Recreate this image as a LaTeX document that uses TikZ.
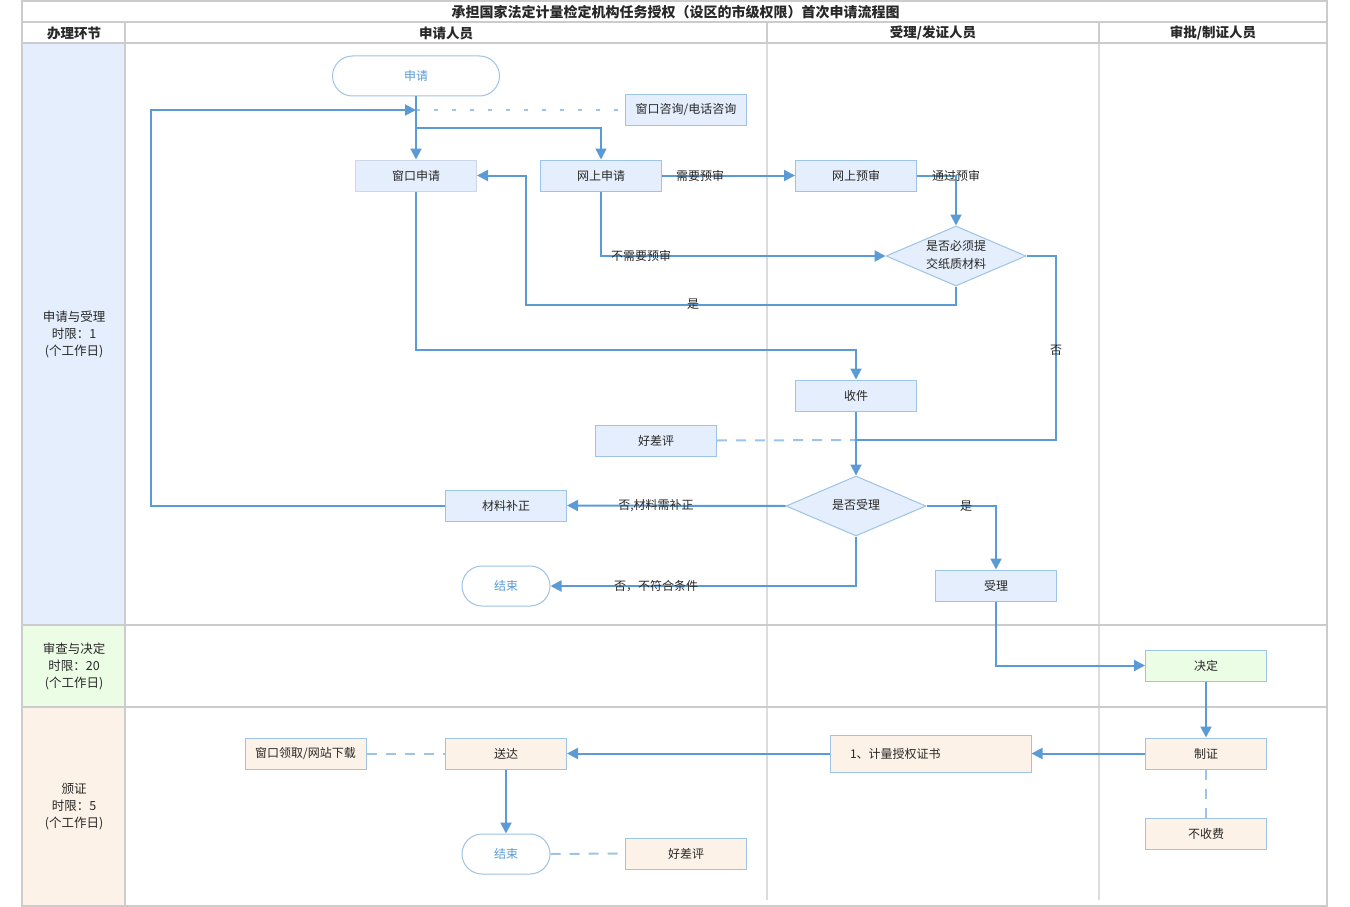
\documentclass[tikz,border=0pt]{standalone}
\usepackage{fontspec}
\setmainfont{Noto Sans CJK SC}
\usetikzlibrary{arrows.meta,shapes.geometric}
\definecolor{ln}{RGB}{91,155,213}
\definecolor{bd}{RGB}{157,195,230}
\definecolor{bdg}{RGB}{205,215,232}
\definecolor{fb}{RGB}{228,238,252}
\definecolor{fg}{RGB}{236,253,230}
\definecolor{fo}{RGB}{253,242,231}
\definecolor{gridc}{RGB}{204,204,204}
\definecolor{gridl}{RGB}{220,220,220}
\definecolor{tx}{RGB}{40,40,40}
\begin{document}
\begin{tikzpicture}[x=1pt,y=-1pt,
  font=\fontsize{12}{14}\selectfont, text=tx,
  box/.style={draw=bd, line width=1pt, fill=fb, minimum width=121pt, minimum height=31pt, inner sep=0pt},
  gbox/.style={box, fill=fg},
  obox/.style={box, fill=fo},
  term/.style={draw=bd, line width=1pt, rounded corners=20pt, minimum width=88pt, minimum height=40pt, inner sep=0pt, text=ln, fill=white},
  dia/.style={diamond, draw=bd, line width=1pt, fill=fb, minimum width=140pt, minimum height=60pt, inner sep=0pt},
  conn/.style={draw=ln, line width=2pt, -{Triangle[length=11pt,width=11pt]}},
  plain/.style={draw=ln, line width=2pt},
  dsh/.style={draw=bd, line width=2pt, dash pattern=on 10pt off 9pt},
  dotl/.style={draw=bd, line width=2pt, dash pattern=on 4pt off 14pt},
  lab/.style={inner sep=1pt},
  phase/.style={align=center, font=\fontsize{12.5}{17}\selectfont},
  hdr/.style={font=\bfseries\fontsize{13.5}{15}\selectfont}]
\useasboundingbox (0,0) rectangle (1350,907);
% phase fills
\fill[fb] (22,43) rectangle (125,625);
\fill[fg] (22,625) rectangle (125,707);
\fill[fo] (22,707) rectangle (125,906);
% grid
\draw[gridl, line width=2pt] (767,43) -- (767,900) (1099,43) -- (1099,900);
\draw[gridc, line width=2pt] (22,1) rectangle (1327,906);
\draw[gridc, line width=2pt] (22,22) -- (1327,22) (22,43) -- (1327,43)
  (22,625) -- (1327,625) (22,707) -- (1327,707)
  (125,22) -- (125,906) (767,22) -- (767,43) (1099,22) -- (1099,43);
% headers
\node[hdr, font=\bfseries\fontsize{14}{15}\selectfont] (title) at (675.5,12) {承担国家法定计量检定机构任务授权（设区的市级权限）首次申请流程图};
\node[hdr] (h0) at (74,33) {办理环节};
\node[hdr] (h1) at (446,33) {申请人员};
\node[hdr] (h2) at (933,33) {受理/发证人员};
\node[hdr] (h3) at (1213,33) {审批/制证人员};
\node[phase] (p1) at (74,334) {申请与受理\\时限：1\\(个工作日)};
\node[phase] (p2) at (74,666) {审查与决定\\时限：20\\(个工作日)};
\node[phase] (p3) at (74,807) {颁证\\时限：5\\(个工作日)};
% nodes
\node[term, minimum width=167pt] (sq) at (416,76) {申请};
\node[box] (zx) at (686,110) {窗口咨询/电话咨询};
\node[box, draw=bdg] (wc) at (416,175.5) {窗口申请};
\node[box] (ws) at (601,175.5) {网上申请};
\node[box] (ys) at (856,175.5) {网上预审};
\node[dia] (d1) at (956,256) {};
\node[align=center, font=\fontsize{12}{18}\selectfont] (d1t) at (956,255) {是否必须提\\交纸质材料};
\node[box] (sj) at (856,395.5) {收件};
\node[box] (hp1) at (656,440.5) {好差评};
\node[dia] (d2) at (856,506) {};
\node (d2t) at (856,505) {是否受理};
\node[box] (bz) at (506,505.5) {材料补正};
\node[term] (end1) at (506,586) {结束};
\node[box] (sl) at (996,585.5) {受理};
\node[gbox] (jd) at (1206,665.5) {决定};
\node[obox] (zz) at (1206,753.5) {制证};
\node[obox] (bsf) at (1206,833.5) {不收费};
\node[obox, minimum height=37pt, inner xsep=20pt, text width=161pt, align=left] (zs) at (930.5,753.5) {1、计量授权证书};
\node[obox] (sd) at (506,753.5) {送达};
\node[obox] (lq) at (305.5,753.5) {窗口领取/网站下载};
\node[term] (end2) at (506,854) {结束};
\node[obox] (hp2) at (686,853.5) {好差评};
% junctions
\coordinate (j1) at (416,110);
\coordinate (j2) at (416,128);
\coordinate (j3) at (856,440);
\coordinate (k1) at (151,300);
\coordinate (k2) at (526,250);
\coordinate (k3) at (1056,350);
\coordinate (k4) at (700,350);
% connectors
\draw[dotl] (j1) -- (zx.west);
\draw[conn] (sq.south) -- (wc.north);
\draw[conn, line width=1.5pt] (j2) -| (ws.north);
\draw[conn] (bz.west) -| (k1) |- (j1);
\draw[conn] (ws.east) -- (ys.west);
\draw[conn] (ys.east) -| (d1.north);
\draw[conn] (ws.south) |- (d1.west);
\draw[conn] (d1.south) -- ++(0,18) -| (k2) |- (wc.east);
\draw[plain] (d1.east) -| (k3) |- (j3);
\draw[conn] (wc.south) |- (k4) -| (sj.north);
\draw[dsh] (hp1.east) -- (j3);
\draw[conn] (sj.south) -- (d2.north);
\draw[conn] (d2.west) -- (bz.east);
\draw[conn] (d2.south) |- (end1.east);
\draw[conn] (d2.east) -| (sl.north);
\draw[conn] (sl.south) |- (jd.west);
\draw[conn] (jd.south) -- (zz.north);
\draw[conn] (zz.west) -- (zs.east);
\draw[conn] (zs.west) -- (sd.east);
\draw[dsh] (lq.east) -- (sd.west);
\draw[conn] (sd.south) -- (end2.north);
\draw[dsh] (end2.east) -- (hp2.west);
\draw[dsh] (zz.south) -- (bsf.north);
% labels
\node[lab] (l1) at (700,176) {需要预审};
\node[lab] (l2) at (956,176) {通过预审};
\node[lab] (l3) at (641,256) {不需要预审};
\node[lab] (l4) at (693,304) {是};
\node[lab] (l5) at (1056,350) {否};
\node[lab] (l6) at (656,506) {否,材料需补正};
\node[lab] (l7) at (656,586) {否，不符合条件};
\node[lab] (l8) at (966,506) {是};
\end{tikzpicture}
\end{document}
